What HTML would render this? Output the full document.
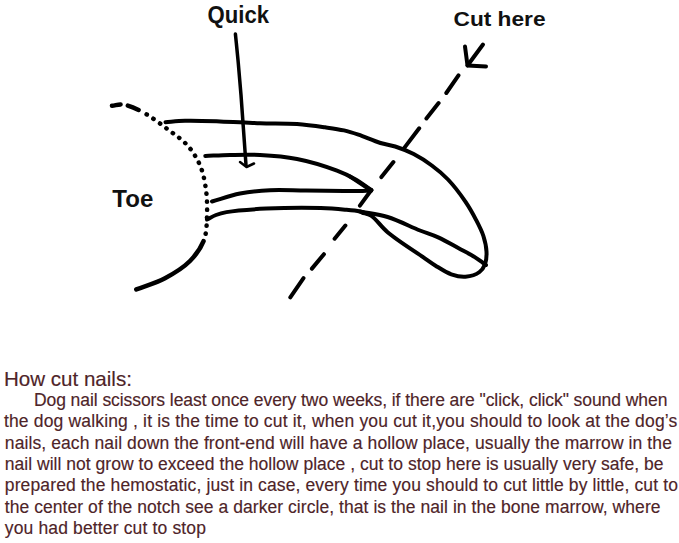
<!DOCTYPE html>
<html><head><meta charset="utf-8">
<style>
html,body{margin:0;padding:0;background:#fff;}
svg{display:block;}
.lbl{font-family:"Liberation Sans",sans-serif;font-weight:bold;font-size:22px;fill:#111;}
.txt{font-family:"Liberation Sans",sans-serif;font-size:17.5px;fill:#4e2428;stroke:#4e2428;stroke-width:0.15px;}
</style></head>
<body>
<svg width="679" height="543" viewBox="0 0 679 543">
<rect width="679" height="543" fill="#fff"/>
<g fill="none" stroke="#000" stroke-width="4.0" stroke-linecap="round" stroke-linejoin="round">
  <path d="M235.4,34.0 C236.3,42.7 237.1,50.7 238.0,60.0 C239.0,70.8 239.9,81.3 241.0,95.0 C242.5,114.3 244.3,141.7 246.0,165.0" stroke-width="3.5"/>
  <path d="M240,162 L246.5,167 L254,163.5" stroke-width="2.5"/>
  <path d="M483,44.5 L467.5,65.5 L486,66.5"/>
  <path d="M465,46.5 L467.5,65.5"/>
  <path d="M458.5,75.3 L446.3,93 M438.6,103 L426.4,118.4 M419.2,128.3 L404.5,147.6 M393.4,162 L381.4,177.1 M371.3,190 L359.9,205.6 M345.4,225.5 L334.6,238.7 M323.9,254.2 L311.9,268.6 M303.5,278.2 L290.3,297.3"/>
  <path d="M165.5,122.2 C172.0,121.7 177.6,121.0 185.0,120.8 C195.0,120.5 207.9,121.0 220.0,121.4 C232.9,121.8 246.9,122.8 260.0,123.2 C272.6,123.6 285.5,123.2 297.0,124.0 C307.0,124.7 316.6,126.1 325.0,127.3 C332.0,128.3 338.1,129.1 344.0,130.4 C349.2,131.6 353.1,132.9 358.4,134.7 C365.0,136.9 373.8,141.0 380.5,143.0 C385.8,144.6 390.1,144.9 395.2,146.5 C401.1,148.4 407.7,150.9 413.7,154.0 C419.9,157.2 426.1,161.2 431.8,165.5 C437.5,169.7 442.8,174.0 448.0,179.5 C454.0,185.8 460.5,194.4 465.4,201.6 C469.7,207.9 473.2,214.3 476.3,220.3 C479.1,225.7 481.7,230.7 483.4,236.0 C485.0,241.1 486.3,246.7 486.5,251.6 C486.7,256.0 486.4,260.6 485.0,264.2 C483.8,267.3 482.2,270.0 479.5,272.0 C476.1,274.5 470.1,276.3 465.4,276.7 C460.7,277.1 456.0,275.9 451.3,274.3 C446.1,272.5 440.5,268.7 435.6,265.7 C431.1,262.9 428.3,260.7 423.1,257.1 C414.3,251.0 396.9,240.1 387.6,232.2 C380.7,226.4 376.0,218.7 371.0,215.6 C367.8,213.6 365.0,213.5 362.0,212.5"/>
  <path d="M205.3,155.9 C213.5,155.6 221.4,155.2 230.0,155.0 C239.5,154.8 249.5,154.4 260.0,155.0 C271.7,155.6 284.5,156.5 297.0,159.0 C310.2,161.6 326.5,166.7 337.0,170.7 C344.2,173.4 349.0,175.8 354.7,179.0 C360.4,182.2 365.8,186.3 371.3,190.0"/>
  <path d="M349.8,176.3 L371.3,190.5"/>
  <path d="M212.0,201.5 C221.3,198.8 230.4,195.4 240.0,193.5 C249.7,191.6 259.5,190.7 270.0,190.2 C281.4,189.6 292.8,190.4 306.0,190.5 C322.0,190.6 347.5,191.0 359.0,190.9 C364.5,190.8 367.2,190.6 371.3,190.5"/>
  <path d="M207.0,219.5 C210.0,218.0 212.8,216.2 216.0,215.0 C219.3,213.7 221.8,212.9 226.5,212.1 C235.5,210.5 252.0,209.3 266.3,208.6 C283.0,207.8 306.2,207.6 320.7,208.0 C330.4,208.3 337.9,209.0 345.0,209.7 C350.6,210.2 355.7,210.6 360.0,211.5 C363.4,212.2 366.0,213.2 369.0,214.0"/>
  <path d="M360.0,211.5 C369.2,213.3 378.2,214.1 387.6,217.0 C398.1,220.2 410.6,226.8 420.0,230.5 C427.1,233.3 432.5,234.7 438.8,237.6 C445.5,240.7 452.8,245.1 459.1,248.5 C464.7,251.5 470.5,254.4 474.8,257.1 C477.9,259.0 480.5,261.1 482.6,262.6 C484.0,263.6 484.9,264.2 486.0,265.0"/>
  <path id="toe" d="M112.0,105.8 C115.7,105.4 118.9,104.0 123.0,104.5 C128.5,105.2 135.1,108.1 141.6,111.5 C149.9,115.8 159.9,123.4 168.0,129.5 C175.3,135.0 182.5,139.7 188.0,146.0 C193.2,152.0 197.3,158.8 200.3,166.0 C203.4,173.4 204.9,181.9 206.0,190.0 C207.1,198.2 207.3,206.7 207.0,215.0 C206.7,223.3 206.8,232.3 204.0,240.0 C201.2,247.7 196.1,254.8 190.0,261.0 C183.3,267.7 173.9,273.5 165.0,278.2 C156.0,283.0 145.9,285.7 136.3,289.4" stroke-dasharray="8.75 7.5 11.5 9.1 0.3 7.7 0.3 7.7 0.3 7.7 0.3 7.7 0.3 7.7 0.3 7.7 0.3 7.7 0.3 7.7 0.3 7.7 0.3 7.7 0.3 7.7 0.3 7.7 0.3 7.7 0.3 7.7 0.3 7.7 0.3 7.7 0.3 7.7 0.3 7.7 0.3 7.7  100 10" stroke-width="4.5"/>
</g>
<text class="lbl" x="207.5" y="22.8" style="font-size:23.5px" textLength="61.5" lengthAdjust="spacingAndGlyphs">Quick</text>
<text class="lbl" x="453.5" y="26" style="font-size:21px" textLength="92" lengthAdjust="spacingAndGlyphs">Cut here</text>
<text class="lbl" x="112.3" y="206.5" style="font-size:23.5px" textLength="41" lengthAdjust="spacingAndGlyphs">Toe</text>
<text class="txt" x="3.9" y="386.2" style="font-size:21px" textLength="128" lengthAdjust="spacingAndGlyphs">How cut nails:</text>
<text class="txt" x="33.9" y="405.6" textLength="633.5" lengthAdjust="spacing">Dog nail scissors least once every two weeks, if there are "click, click" sound when</text>
<text class="txt" x="3.9" y="427" textLength="673.4" lengthAdjust="spacing">the dog walking , it is the time to cut it, when you cut it,you should to look at the dog’s</text>
<text class="txt" x="4.8" y="448.5" textLength="667.1" lengthAdjust="spacing">nails, each nail down the front-end will have a hollow place, usually the marrow in the</text>
<text class="txt" x="4.8" y="470" textLength="658.7" lengthAdjust="spacing">nail will not grow to exceed the hollow place , cut to stop here is usually very safe, be</text>
<text class="txt" x="4.8" y="491.4" textLength="673.1" lengthAdjust="spacing">prepared the hemostatic, just in case, every time you should to cut little by little, cut to</text>
<text class="txt" x="4.8" y="512.8" textLength="655.7" lengthAdjust="spacing">the center of the notch see a darker circle, that is the nail in the bone marrow, where</text>
<text class="txt" x="4.8" y="534.3" textLength="201.1" lengthAdjust="spacing">you had better cut to stop</text>
</svg>
</body></html>
